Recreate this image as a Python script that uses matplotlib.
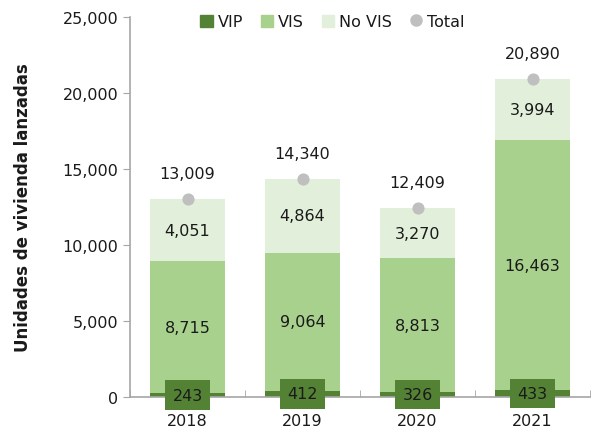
import matplotlib
matplotlib.use("Agg")
import matplotlib.pyplot as plt
from matplotlib.ticker import FuncFormatter, FixedLocator
from matplotlib.lines import Line2D
from matplotlib.patches import Patch

years = ["2018", "2019", "2020", "2021"]
vip = [243, 412, 326, 433]
vis = [8715, 9064, 8813, 16463]
novis = [4051, 4864, 3270, 3994]
total = [13009, 14340, 12409, 20890]

c_vip = "#548235"
c_vis = "#A9D18E"
c_novis = "#E2EFDA"
c_tot = "#BFBFBF"

plt.rcParams['font.family'] = ['DejaVu Sans']

fig = plt.figure(figsize=(5.98, 4.31), dpi=100)
ax = fig.add_axes([130/598, 1-398/431, 460/598, 380/431])

x = list(range(len(years)))
w = 0.65
ax.bar(x, vip, w, color=c_vip, zorder=2)
ax.bar(x, vis, w, bottom=vip, color=c_vis, zorder=2)
bot3 = [a + b for a, b in zip(vip, vis)]
ax.bar(x, novis, w, bottom=bot3, color=c_novis, zorder=2)
ax.scatter(x, total, s=60, color=c_tot, zorder=3)

fs = 11.5
tc = "#1a1a1a"
for i in x:
    ax.text(i, vip[i] / 2, f"{vip[i]:,}", ha="center", va="center", fontsize=fs,
            color=tc, zorder=5,
            bbox=dict(boxstyle="square,pad=0.45", fc=c_vip, ec="none"))
    ax.text(i, vip[i] + vis[i] / 2, f"{vis[i]:,}", ha="center", va="center",
            fontsize=fs, color=tc, zorder=5)
    ax.text(i, bot3[i] + novis[i] / 2, f"{novis[i]:,}", ha="center", va="center",
            fontsize=fs, color=tc, zorder=5)
    ax.annotate(f"{total[i]:,}", (i, total[i]), xytext=(0, 13),
                textcoords="offset points", ha="center", va="bottom",
                fontsize=fs, color=tc, zorder=5)

ax.set_xlim(-0.5, len(years) - 0.5)
ax.set_ylim(0, 25000)
ax.set_yticks(range(0, 25001, 5000))
ax.yaxis.set_major_formatter(FuncFormatter(lambda v, p: f"{int(v):,}"))
ax.set_xticks(x)
ax.set_xticklabels(years)
ax.xaxis.set_minor_locator(FixedLocator([-0.5, 0.5, 1.5, 2.5, 3.5]))
ax.tick_params(axis="x", which="major", length=0, labelsize=fs, pad=11.5, colors=tc)
ax.tick_params(axis="x", which="minor", length=5, direction="in", color="#A6A6A6")
ax.tick_params(axis="y", length=5, direction="out", color="#A6A6A6", labelsize=fs,
               labelcolor=tc)
for s in ["top", "right"]:
    ax.spines[s].set_visible(False)
for s in ["left", "bottom"]:
    ax.spines[s].set_color("#A6A6A6")
    ax.spines[s].set_linewidth(1.2)
ax.spines["bottom"].set_zorder(4)

ax.set_ylabel("Unidades de vivienda lanzadas", fontsize=12, fontweight="bold",
              labelpad=22, color=tc)

handles = [Patch(color=c_vip, label="VIP"), Patch(color=c_vis, label="VIS"),
           Patch(color=c_novis, label="No VIS"),
           Line2D([], [], marker="o", color=c_tot, linestyle="none", markersize=8,
                  label="Total")]
ax.legend(handles=handles, ncol=4, loc="upper center", bbox_to_anchor=(0.44, 1.045),
          frameon=False, fontsize=fs, handlelength=0.8, handleheight=0.8,
          handletextpad=0.3, columnspacing=1.1, labelcolor=tc)

fig.savefig("out.png", dpi=100)
